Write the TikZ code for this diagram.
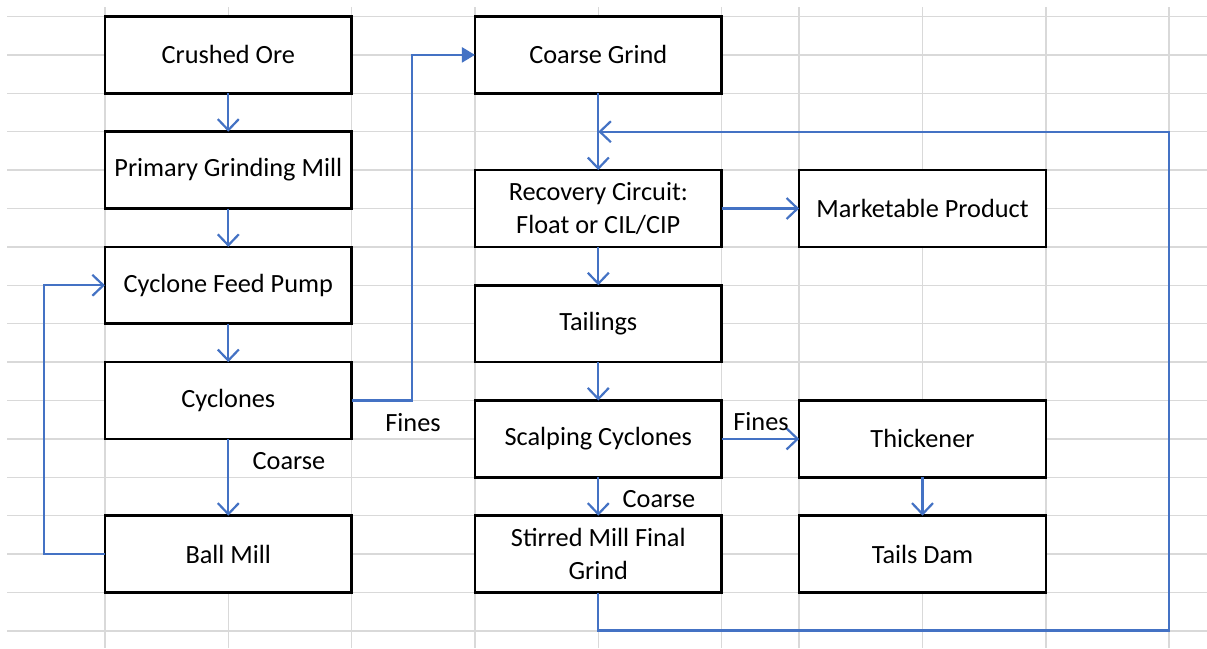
\documentclass[tikz,border=0pt]{standalone}
\usepackage{fontspec}
\setmainfont{Carlito}
\usetikzlibrary{arrows.meta}
\definecolor{flowblue}{RGB}{68,114,196}
\definecolor{gridgray}{RGB}{217,217,217}
\tikzset{
  box/.style={draw=black, line width=2.5pt, fill=white, rectangle, minimum width=246.7pt,
    minimum height=76.8pt, inner sep=0pt, outer sep=0pt, align=center,
    font=\fontsize{26.3}{33}\selectfont},
  flow/.style={draw=flowblue, line width=2.2pt, -{Straight Barb[length=11pt,width=21pt,line width=2.2pt]}},
  flowfill/.style={draw=flowblue, line width=2.2pt, -{Triangle[length=13pt,width=15pt]}},
  lbl/.style={inner sep=0pt, font=\fontsize{26.3}{30}\selectfont},
  gridline/.style={draw=gridgray, line width=1.3pt}
}
\begin{document}
\begin{tikzpicture}[x=1pt,y=-1pt]
\useasboundingbox (0,0) rectangle (1207,648);
\fill[white] (0,0) rectangle (1207,648);
% spreadsheet grid
\foreach \k in {0,...,16} {
  \draw[gridline] (7,{16.5+38.4*\k}) -- (1207,{16.5+38.4*\k});
}
\foreach \gx in {105,228.3,351.7,475,598.3,721.7,799,922.5,1046,1169} {
  \draw[gridline] (\gx,7) -- (\gx,648);
}
% boxes
\node[box] (ore) at (228.3,54.9) {Crushed Ore};
\node[box] (pgm) at (228.3,170.1) {Primary Grinding Mill};
\node[box] (cfp) at (228.3,285.3) {Cyclone Feed Pump};
\node[box] (cyc) at (228.3,400.5) {Cyclones};
\node[box] (ball) at (228.3,554.1) {Ball Mill};
\node[box] (cg) at (598.3,54.9) {Coarse Grind};
\node[box] (rec) at (598.3,208.5) {Recovery Circuit:\\Float or CIL/CIP};
\node[box] (tail) at (598.3,323.7) {Tailings};
\node[box] (scalp) at (598.3,438.9) {Scalping Cyclones};
\node[box] (stir) at (598.3,554.1) {Stirred Mill Final\\Grind};
\node[box] (mkt) at (922.5,208.5) {Marketable Product};
\node[box] (thick) at (922.5,438.9) {Thickener};
\node[box] (dam) at (922.5,554.1) {Tails Dam};
% connectors
\draw[flow] (ore) -- (pgm);
\draw[flow] (pgm) -- (cfp);
\draw[flow] (cfp) -- (cyc);
\draw[flow] (cyc) -- (ball);
\draw[flow] (ball.west) -- ++(-61,0) |- (cfp.west);
\draw[flowfill] (cyc.east) -- ++(60,0) |- (cg.west);
\coordinate (ret) at (598.3,131.7);
\draw[flow] (cg) -- (rec);
\draw[flow] (stir.south) -- ++(0,38) -| (1169,131.7) -- (ret);
\draw[flow] (rec) -- (mkt);
\draw[flow] (rec) -- (tail);
\draw[flow] (tail) -- (scalp);
\draw[flow] (scalp) -- (thick);
\draw[flow] (scalp) -- (stir);
\draw[flow] (thick) -- (dam);
% labels
\node[lbl] (lcoarse1) at (289,461) {Coarse};
\node[lbl] (lfines1) at (413,423) {Fines};
\node[lbl] (lfines2) at (761,422) {Fines};
\node[lbl] (lcoarse2) at (659,499) {Coarse};
\end{tikzpicture}
\end{document}
